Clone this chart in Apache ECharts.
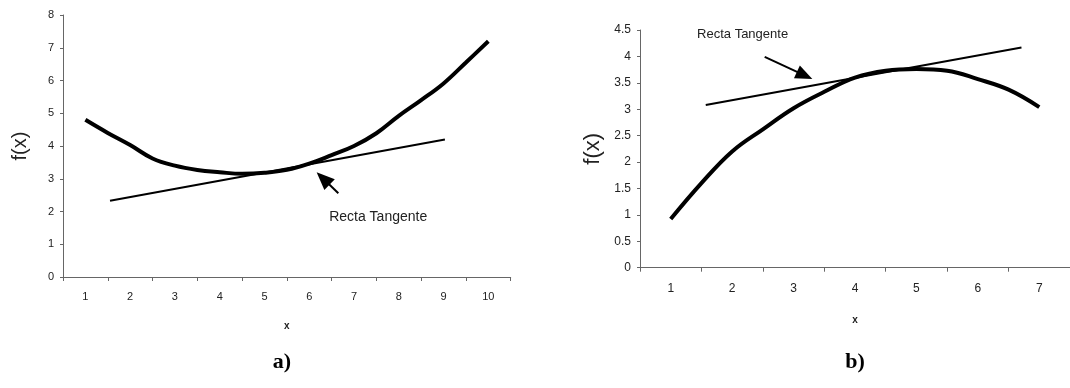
<!DOCTYPE html>
<html><head><meta charset="utf-8">
<script src="https://cdn.jsdelivr.net/npm/echarts@6/dist/echarts.min.js"></script>
<style>html,body{margin:0;padding:0;background:#fff}#c{width:1070px;height:388px}</style>
</head><body><div id="c"></div>
<script>
// Chart a)
const catsA = ['1','2','3','4','5','6','7','8','9','10'];
const curveAx = [1,1.5,2,2.5,3,3.5,4,4.5,5,5.5,6,6.5,7,7.5,8,8.5,9,9.5,10];
const curveAy = [4.8,4.4,4.03,3.62,3.4,3.27,3.2,3.15,3.18,3.27,3.46,3.72,4.0,4.39,4.92,5.4,5.91,6.55,7.2];
const tanAx = [1.55, 9.03];
const tanAy = [2.33, 4.2];
const arrowA = [[6.65, 2.56],[6.31, 3.01]];
const labelA = [7.54, 1.84];
// Chart b)
const catsB = ['1','2','3','4','5','6','7'];
const curveBx = [1,1.5,2,2.5,3,3.5,4,4.5,5,5.5,6,6.5,7];
const curveBy = [0.92,1.6,2.2,2.62,3.02,3.33,3.6,3.73,3.76,3.73,3.57,3.37,3.04];
const tanBx = [1.57, 6.71];
const tanBy = [3.08, 4.17];
const arrowB = [[2.53, 3.99],[3.18, 3.64]];
const labelB = [2.17, 4.41];
const tangentText = 'Recta Tangente';

const zip = (xs, ys) => xs.map((x, i) => [x, ys[i]]);
const axisColor = '#666';
const txt = '#222';
const font = 'Liberation Sans, Arial, sans-serif';

function catAxis(grid, cats, margin, size){
  return {type:'category', gridIndex:grid, data:cats, boundaryGap:true,
    name:'x', nameLocation:'middle', nameGap: grid===0?44:48,
    nameTextStyle:{fontSize:10, fontWeight:'bold', color:txt, fontFamily:font},
    axisLine:{lineStyle:{color:axisColor, width:1}},
    axisTick:{show:true, length:4, lineStyle:{color:axisColor}},
    axisLabel:{fontSize:size, color:txt, fontFamily:font, margin:margin},
    splitLine:{show:false}};
}
function valXAxis(grid, n){
  return {type:'value', gridIndex:grid, min:0.5, max:n+0.5, show:false};
}
function yAx(grid, max, interval, gap, nameSize, size){
  return {type:'value', gridIndex:grid, min:0, max:max, interval:interval,
    name:'f(x)', nameLocation:'middle', nameRotate:90, nameGap:gap,
    nameTextStyle:{fontSize:nameSize, color:txt, fontFamily:font},
    axisLine:{show:true, lineStyle:{color:axisColor, width:1}},
    axisTick:{show:true, length:3, lineStyle:{color:axisColor}},
    axisLabel:{fontSize:size, color:txt, fontFamily:font, margin:9},
    splitLine:{show:false}};
}
function arrowMark(arr, size){
  return {silent:true, symbol:['none','triangle'], symbolSize:size, animation:false,
    lineStyle:{color:'#000', width:2, type:'solid'}, itemStyle:{color:'#000'}, label:{show:false},
    data:[[{coord:arr[0]},{coord:arr[1]}]]};
}
function labelMark(pos, size){
  return {silent:true, symbol:'circle', symbolSize:1, itemStyle:{color:'rgba(0,0,0,0)'},
    label:{show:true, position:'inside', formatter:tangentText, color:txt, fontSize:size, fontFamily:font},
    data:[{coord:pos}]};
}

const chart = echarts.init(document.getElementById('c'), null, {renderer:'canvas'});
chart.setOption({
  animation:false,
  backgroundColor:'#fff',
  grid:[
    {left:63, top:15, width:447.7, height:262, containLabel:false},
    {left:640, top:30, width:435, height:237.7, containLabel:false}
  ],
  xAxis:[catAxis(0, catsA, 14, 11), valXAxis(0, catsA.length), catAxis(1, catsB, 15, 12), valXAxis(1, catsB.length)],
  yAxis:[yAx(0, 8, 1, 33, 20, 11), yAx(1, 4.5, 0.5, 36, 22, 12)],
  series:[
    {type:'line', xAxisIndex:1, yAxisIndex:0, data:zip(curveAx, curveAy), smooth:0.4, showSymbol:false,
      lineStyle:{color:'#000', width:4}},
    {type:'line', xAxisIndex:1, yAxisIndex:0, data:zip(tanAx, tanAy), showSymbol:false,
      lineStyle:{color:'#000', width:2},
      markLine:arrowMark(arrowA, [15, 18]), markPoint:labelMark(labelA, 14)},
    {type:'line', xAxisIndex:3, yAxisIndex:1, data:zip(curveBx, curveBy), smooth:0.4, showSymbol:false,
      lineStyle:{color:'#000', width:4}},
    {type:'line', xAxisIndex:3, yAxisIndex:1, data:zip(tanBx, tanBy), showSymbol:false,
      lineStyle:{color:'#000', width:2},
      markLine:arrowMark(arrowB, [14, 17]), markPoint:labelMark(labelB, 13)}
  ],
  graphic:[
    {type:'text', x:282, y:362, style:{text:'a)', font:'bold 22px "Liberation Serif", "Times New Roman", serif', fill:'#000', textAlign:'center', textVerticalAlign:'middle'}},
    {type:'text', x:855, y:362, style:{text:'b)', font:'bold 22px "Liberation Serif", "Times New Roman", serif', fill:'#000', textAlign:'center', textVerticalAlign:'middle'}}
  ]
});
</script></body></html>
